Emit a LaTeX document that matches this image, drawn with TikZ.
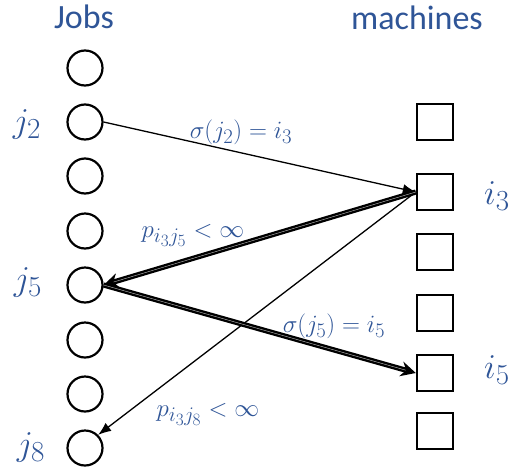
\documentclass[tikz,border=0pt]{standalone}
\usepackage{graphicx}
\usepackage{fontspec}
\setmainfont{Carlito}
\usetikzlibrary{arrows.meta}
\definecolor{lblue}{RGB}{47,85,151}
\newcommand{\mylargemath}[1]{\scalebox{1.4}{$#1$}}
\tikzset{
  job/.style={circle, draw, line width=2.2pt, minimum size=35pt, inner sep=0pt},
  mach/.style={rectangle, draw, line width=2.4pt, minimum size=36pt, inner sep=0pt},
  head/.style={text=lblue, font=\fontsize{34}{38}\selectfont, anchor=base, inner sep=0pt},
  big/.style={text=lblue, font=\fontsize{24.88}{28}\selectfont, inner sep=0pt},
  elab/.style={text=lblue, font=\fontsize{24.88}{28}\selectfont, inner sep=0pt},
  thin/.style={line width=1.3pt, -{Latex[length=13pt,width=10pt]}},
  thick/.style={line width=2.4pt, double=gray!45, double distance=0.4pt, -{Stealth[length=15pt,width=15pt,inset=5pt]}},
}
\begin{document}
\begin{tikzpicture}[x=1pt,y=-1pt]
\useasboundingbox (0,0) rectangle (510,471);
% headers
\node[head] (jobs) at (84,28) {Jobs};
\node[head] (machines) at (417,29) {machines};
% jobs
\foreach \k/\y in {1/68,2/122,3/176,4/231,5/285,6/340,7/394,8/448}
  \node[job] (j\k) at (85,\y) {};
% machines
\foreach \k/\y in {1/122,2/192,3/252,4/313,5/373,6/431}
  \node[mach] (m\k) at (435,\y) {};
% labels
\node[big] (lj2) at (27,124) {\mylargemath{j_2}};
\node[big] (lj5) at (28,282) {\mylargemath{j_5}};
\node[big] (lj8) at (31,447) {\mylargemath{j_8}};
\node[big] (li3) at (497,196) {\mylargemath{i_3}};
\node[big] (li5) at (497,370) {\mylargemath{i_5}};
% edges
\draw[thin] (j2.east) -- (m2.west);
\draw[thin] (m2.west) -- (j8.north east);
\draw[thick] (m2.west) -- (j5.east);
\draw[thick] (j5.east) -- (m5.west);
% edge labels
\node[elab] (e1) at (241,132) {$\sigma(j_2)=i_3$};
\node[elab] (e2) at (193,235) {$p_{i_3j_5}<\infty$};
\node[elab] (e3) at (334,326) {$\sigma(j_5)=i_5$};
\node[elab] (e4) at (208,414) {$p_{i_3j_8}<\infty$};
\end{tikzpicture}
\end{document}
